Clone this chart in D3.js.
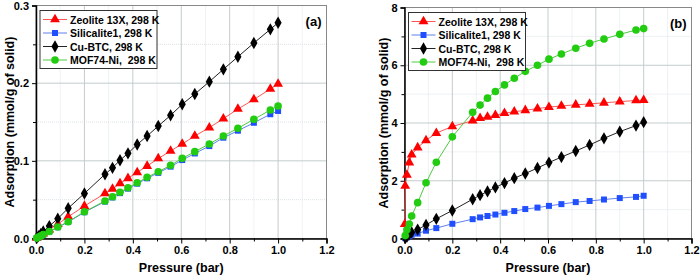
<!DOCTYPE html>
<html>
<head>
<meta charset="utf-8">
<script src="https://cdn.jsdelivr.net/npm/d3@7"></script>
<style>
  body { margin: 0; background: #fff; }
  svg { display: block; font-family: Arial, "Liberation Sans", sans-serif; }
  .tick text { font-weight: bold; font-size: 11px; }
</style>
</head>
<body>
<div id="chart"></div>
<script>
// pressure points (bar)
const pressureA = [0.003, 0.01, 0.02, 0.03, 0.055, 0.09, 0.133, 0.2, 0.285, 0.316, 0.347, 0.38, 0.418, 0.459, 0.505, 0.556, 0.604, 0.656, 0.716, 0.774, 0.834, 0.9, 0.968, 1.0];
const pressureZeoB = [0.001, 0.003, 0.01, 0.02, 0.03, 0.055, 0.09, 0.133, 0.2, 0.285, 0.316, 0.347, 0.38, 0.418, 0.459, 0.505, 0.556, 0.604, 0.656, 0.716, 0.774, 0.834, 0.9, 0.968, 1.0];

// panel (a) values, mmol/g
const zeoliteA = [0.0007, 0.002, 0.0042, 0.0063, 0.0115, 0.0185, 0.028, 0.0418, 0.058, 0.0637, 0.071, 0.0775, 0.0852, 0.0933, 0.103, 0.1127, 0.1217, 0.132, 0.1427, 0.1543, 0.1667, 0.179, 0.1925, 0.1989];
const silicaliteA = [0.0005, 0.0016, 0.0032, 0.0049, 0.0088, 0.0145, 0.0212, 0.0338, 0.0475, 0.0528, 0.0584, 0.0642, 0.0706, 0.0775, 0.0845, 0.0925, 0.101, 0.1095, 0.119, 0.1298, 0.1388, 0.149, 0.16, 0.1642];
const cubtcA = [0.001, 0.003, 0.006, 0.009, 0.016, 0.0255, 0.039, 0.058, 0.0827, 0.091, 0.1007, 0.1097, 0.121, 0.132, 0.1448, 0.1586, 0.1728, 0.186, 0.2019, 0.2178, 0.234, 0.2517, 0.2693, 0.2778];
const mof74A = [0.0005, 0.0017, 0.0033, 0.005, 0.009, 0.0148, 0.0216, 0.0345, 0.0483, 0.0538, 0.0595, 0.0654, 0.0718, 0.0788, 0.086, 0.0942, 0.1032, 0.1118, 0.1217, 0.132, 0.1419, 0.1535, 0.1654, 0.1706];

// panel (b) values, mmol/g
const zeoliteB = [0.5, 1.82, 2.2, 2.63, 2.9, 3.15, 3.4, 3.65, 3.88, 4.08, 4.17, 4.21, 4.27, 4.34, 4.39, 4.44, 4.5, 4.55, 4.59, 4.63, 4.66, 4.7, 4.74, 4.78, 4.79];
const silicaliteB = [0.01, 0.04, 0.08, 0.13, 0.17, 0.27, 0.36, 0.51, 0.67, 0.73, 0.78, 0.83, 0.89, 0.95, 1.02, 1.07, 1.13, 1.19, 1.26, 1.3, 1.35, 1.4, 1.44, 1.48];
const cubtcB = [0.02, 0.06, 0.15, 0.21, 0.31, 0.47, 0.68, 0.97, 1.36, 1.5, 1.63, 1.77, 1.92, 2.09, 2.25, 2.44, 2.63, 2.82, 3.03, 3.24, 3.47, 3.7, 3.91, 4.03];
const mof74B = [0.1, 0.3, 0.5, 0.78, 1.24, 1.93, 2.64, 3.52, 4.37, 4.62, 4.86, 5.09, 5.32, 5.55, 5.79, 6.0, 6.21, 6.39, 6.59, 6.76, 6.91, 7.07, 7.22, 7.27];

const seriesNames = ["Zeolite 13X, 298 K", "Silicalite1, 298 K", "Cu-BTC, 298 K", "MOF74-Ni,  298 K"];
const xTicks = [0.0, 0.2, 0.4, 0.6, 0.8, 1.0, 1.2];
const yTicksA = [0.0, 0.1, 0.2, 0.3];
const yTicksB = [0, 2, 4, 6, 8];

// marker style per series
const styles = [
  { marker: d3.symbolTriangle, size: 42, fill: "#ff0000", line: "#ff5555" },
  { marker: d3.symbolSquare, size: 36, fill: "#1f4fff", line: "#6080ee" },
  { marker: d3.symbolDiamond, size: 44, fill: "#000000", line: "#222222" },
  { marker: d3.symbolCircle, size: 46, fill: "#22cc11", line: "#4ccc3c" },
];

const svg = d3.select("#chart").append("svg").attr("width", 700).attr("height", 278);

function drawPanel(box, yMax, yTicks, yFmt, series, tag) {
  const x = d3.scaleLinear().domain([0, 1.2]).range([box.left, box.right]);
  const y = d3.scaleLinear().domain([0, yMax]).range([box.bottom, box.top]);
  const g = svg.append("g");

  // minor grid (dotted)
  const xMinor = d3.range(0.1, 1.2, 0.2);
  const yStep = yTicks[1] - yTicks[0];
  const yMinor = d3.range(yStep / 2, yMax, yStep);
  g.selectAll(".gxm").data(xMinor).enter().append("line")
    .attr("x1", (d) => x(d)).attr("x2", (d) => x(d))
    .attr("y1", box.top).attr("y2", box.bottom)
    .attr("stroke", "#dde3e6").attr("stroke-dasharray", "1,1");
  g.selectAll(".gym").data(yMinor).enter().append("line")
    .attr("x1", box.left).attr("x2", box.right)
    .attr("y1", (d) => y(d)).attr("y2", (d) => y(d))
    .attr("stroke", "#dde3e6").attr("stroke-dasharray", "1,1");

  // major grid
  g.selectAll(".gx").data(xTicks.slice(1, -1)).enter().append("line")
    .attr("x1", (d) => x(d)).attr("x2", (d) => x(d))
    .attr("y1", box.top).attr("y2", box.bottom)
    .attr("stroke", "#c3cccc");
  g.selectAll(".gy").data(yTicks.slice(1, -1)).enter().append("line")
    .attr("x1", box.left).attr("x2", box.right)
    .attr("y1", (d) => y(d)).attr("y2", (d) => y(d))
    .attr("stroke", "#c3cccc");

  // frame
  g.append("rect")
    .attr("x", box.left).attr("y", box.top)
    .attr("width", box.right - box.left).attr("height", box.bottom - box.top)
    .attr("fill", "none").attr("stroke", "#888").attr("stroke-width", 1);

  // minor ticks
  g.append("g")
    .attr("transform", `translate(0,${box.bottom})`)
    .call(d3.axisBottom(x).tickValues(xMinor).tickSize(3).tickFormat(""))
    .call((a) => a.select(".domain").remove());
  g.append("g")
    .attr("transform", `translate(${box.left},0)`)
    .call(d3.axisLeft(y).tickValues(yMinor).tickSize(3).tickFormat(""))
    .call((a) => a.select(".domain").remove());

  // axes
  g.append("g")
    .attr("transform", `translate(0,${box.bottom})`)
    .call(d3.axisBottom(x).tickValues(xTicks).tickSize(5).tickPadding(3).tickFormat(d3.format(".1f")))
    .call((a) => a.select(".domain").attr("stroke-width", 1.5));
  g.append("g")
    .attr("transform", `translate(${box.left},0)`)
    .call(d3.axisLeft(y).tickValues(yTicks).tickSize(4).tickPadding(3).tickFormat(yFmt))
    .call((a) => a.select(".domain").attr("stroke-width", 1.5));

  // axis titles
  g.append("text")
    .attr("x", (box.left + box.right) / 2).attr("y", 272)
    .attr("text-anchor", "middle").attr("font-weight", "bold").attr("font-size", 12.5)
    .text("Pressure (bar)");
  g.append("text")
    .attr("transform", `translate(${box.left - box.titleGap},${(box.top + box.bottom) / 2}) rotate(-90)`)
    .attr("text-anchor", "middle").attr("font-weight", "bold").attr("font-size", 12.5)
    .text("Adsorption (mmol/g of solid)");

  // series lines and markers
  const line = d3.line().x((d) => x(d[0])).y((d) => y(d[1]));
  series.forEach((s, i) => {
    const pts = d3.zip(s.p, s.v);
    const st = styles[i];
    g.append("path").datum(pts)
      .attr("d", line).attr("fill", "none")
      .attr("stroke", st.line).attr("stroke-width", 1);
    g.selectAll(".m" + i).data(pts).enter().append("path")
      .attr("transform", (d) => `translate(${x(d[0])},${y(d[1])})`)
      .attr("d", d3.symbol().type(st.marker).size(st.size))
      .attr("fill", st.fill);
  });

  // legend
  const lg = g.append("g").attr("transform", `translate(${box.left + 4},${box.top + 5})`);
  lg.append("rect").attr("width", 117).attr("height", 58)
    .attr("fill", "#fff").attr("stroke", "#333").attr("stroke-width", 1);
  seriesNames.forEach((name, i) => {
    const st = styles[i];
    const ry = 9 + i * 13.5;
    lg.append("line").attr("x1", 3).attr("x2", 27).attr("y1", ry).attr("y2", ry)
      .attr("stroke", st.line).attr("stroke-width", 1);
    lg.append("path").attr("transform", `translate(15,${ry})`)
      .attr("d", d3.symbol().type(st.marker).size(st.size)).attr("fill", st.fill);
    lg.append("text").attr("x", 30).attr("y", ry + 4)
      .attr("font-weight", "bold").attr("font-size", 10.5)
      .style("white-space", "pre").text(name);
  });

  // panel tag
  g.append("text")
    .attr("x", box.right - 5).attr("y", box.top + 20)
    .attr("text-anchor", "end").attr("font-weight", "bold").attr("font-size", 13)
    .text(tag);
}

drawPanel(
  { left: 36, right: 326.5, top: 5.5, bottom: 238.5, titleGap: 22 },
  0.3, yTicksA, d3.format(".1f"),
  [
    { p: pressureA, v: zeoliteA },
    { p: pressureA, v: silicaliteA },
    { p: pressureA, v: cubtcA },
    { p: pressureA, v: mof74A },
  ],
  "(a)"
);

drawPanel(
  { left: 404.5, right: 691.5, top: 7.5, bottom: 238.5, titleGap: 16.5 },
  8, yTicksB, d3.format("d"),
  [
    { p: pressureZeoB, v: zeoliteB },
    { p: pressureA, v: silicaliteB },
    { p: pressureA, v: cubtcB },
    { p: pressureA, v: mof74B },
  ],
  "(b)"
);
</script>
</body>
</html>
